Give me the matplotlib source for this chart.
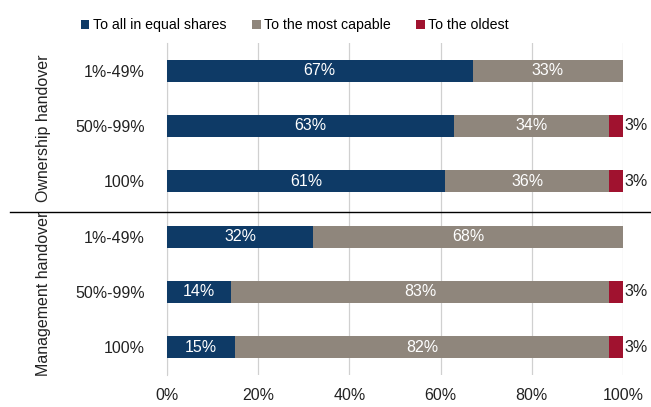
import matplotlib.pyplot as plt
import numpy as np

plt.rcParams['font.family'] = ['Liberation Sans', 'DejaVu Sans']

# Share of handover by type
rows = ['1%-49%', '50%-99%', '100%', '1%-49%', '50%-99%', '100%']
groups = ['Ownership handover', 'Management handover']
series = ['To all in equal shares', 'To the most capable', 'To the oldest']
equal = [67, 63, 61, 32, 14, 15]
capable = [33, 34, 36, 68, 83, 82]
oldest = [0, 3, 3, 0, 3, 3]
colors = ['#0E3A66', '#8F867C', '#A0122F']

fig = plt.figure(figsize=(6.51, 4.07), dpi=100)
ax = fig.add_axes([167 / 651, 1 - 375 / 407, 456 / 651, 332 / 407])

fs = 11.5
y = np.arange(len(rows))
left = np.zeros(len(rows))
for vals, col, name in zip([equal, capable, oldest], colors, series):
    vals = np.array(vals)
    ax.barh(y, vals, left=left, height=0.4, color=col, label=name, zorder=3)
    for i, v in enumerate(vals):
        if v == 0:
            continue
        if name == 'To the oldest':
            ax.text(left[i] + v + 0.4, y[i], f'{v}%', ha='left', va='center',
                    fontsize=fs, color='#222222')
        else:
            ax.text(left[i] + v / 2, y[i], f'{v}%', ha='center', va='center',
                    fontsize=fs, color='white', zorder=4)
    left += vals

ax.set_xlim(0, 100)
ax.set_ylim(len(rows) - 0.5, -0.5)
ax.set_yticks(y)
ax.set_yticklabels(rows, fontsize=fs, color='#222222')
ax.set_xticks(np.arange(0, 101, 20))
ax.set_xticklabels([f'{t}%' for t in range(0, 101, 20)], fontsize=fs, color='#222222')
ax.tick_params(length=0, pad=9)
ax.tick_params(axis='y', pad=16)
ax.grid(axis='x', color='#D0D0D0', linewidth=0.9, zorder=0)
for s in ['top', 'right', 'bottom']:
    ax.spines[s].set_visible(False)
ax.spines['left'].set_color('#D0D0D0')

# separator between groups and group labels
fig.add_artist(plt.Line2D([10 / 651, 1], [1 - 212 / 407] * 2, color='black', linewidth=1))
fig.text(44 / 651, 1 - 128 / 407, groups[0], rotation=90, ha='center', va='center',
         fontsize=11.5, color='#222222')
fig.text(44 / 651, 1 - 294 / 407, groups[1], rotation=90, ha='center', va='center',
         fontsize=11.5, color='#222222')

fig.legend(loc='center', bbox_to_anchor=(295 / 651, 1 - 25 / 407), ncol=3, frameon=False,
           fontsize=10.2, handlelength=0.6, handleheight=0.6, handletextpad=0.25,
           columnspacing=1.8)

fig.savefig('out.png', dpi=100)
